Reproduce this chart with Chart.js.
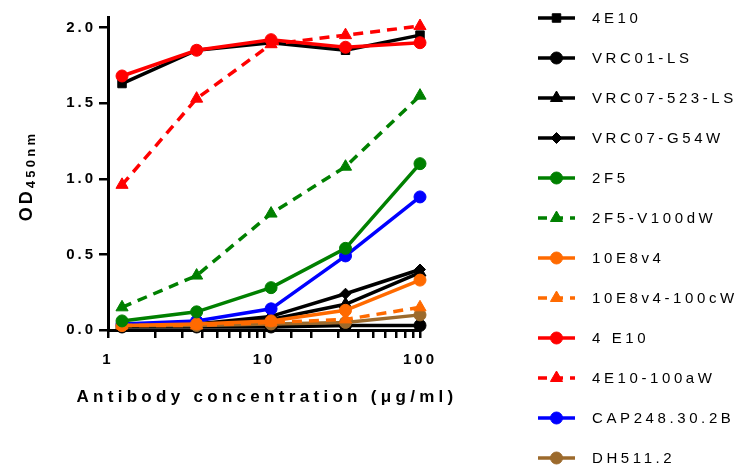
<!DOCTYPE html>
<html>
<head>
<meta charset="utf-8">
<script src="https://cdn.jsdelivr.net/npm/chart.js@4.4.1/dist/chart.umd.min.js"></script>
<style>
  html, body { margin: 0; padding: 0; background: #fff; }
</style>
</head>
<body>
<canvas id="elisaChart" width="739" height="468"></canvas>
<script>
// antibody concentrations (ug/ml), 3-fold dilutions
const conc = [1.23, 3.7, 11.1, 33.3, 100];

const names = ['4E10', 'VRC01-LS', 'VRC07-523-LS', 'VRC07-G54W', '2F5', '2F5-V100dW',
               '10E8v4', '10E8v4-100cW', '4 E10', '4E10-100aW', 'CAP248.30.2B', 'DH511.2'];

// OD450 per antibody
const od4E10      = [1.63, 1.85, 1.90, 1.85, 1.95];
const odVRC01LS   = [0.02, 0.02, 0.02, 0.03, 0.03];
const odVRC07523  = [0.03, 0.04, 0.07, 0.17, 0.38];
const odVRC07G54W = [0.03, 0.04, 0.09, 0.24, 0.40];
const od2F5       = [0.06, 0.12, 0.28, 0.54, 1.10];
const od2F5V100dW = [0.15, 0.36, 0.77, 1.08, 1.55];
const od10E8v4    = [0.03, 0.04, 0.06, 0.13, 0.33];
const od10E8v4cW  = [0.03, 0.03, 0.05, 0.07, 0.15];
const od4E10red   = [1.68, 1.85, 1.92, 1.87, 1.90];
const od4E10aW    = [0.96, 1.53, 1.89, 1.95, 2.01];
const odCAP248    = [0.04, 0.06, 0.14, 0.49, 0.88];
const odDH511     = [0.03, 0.03, 0.04, 0.05, 0.10];

const yTicks = [0, 0.5, 1.0, 1.5, 2.0];
const xLabels = [1, 10, 100];

const allSeries = [od4E10, odVRC01LS, odVRC07523, odVRC07G54W, od2F5, od2F5V100dW,
                   od10E8v4, od10E8v4cW, od4E10red, od4E10aW, odCAP248, odDH511];

const colors = ['#000000', '#000000', '#000000', '#000000', '#008000', '#008000',
                '#ff6a00', '#ff6a00', '#ff0000', '#ff0000', '#0000ff', '#9c6a2c'];
const markers = ['rect', 'circle', 'triangle', 'rectRot', 'circle', 'triangle',
                 'circle', 'triangle', 'circle', 'triangle', 'circle', 'circle'];
const dashed = [false, false, false, false, false, true, false, true, false, true, false, false];
// stacking: lower number is drawn on top
const zOrder = [9, 8, 7, 6, 1, 1, 2, 3, 1, 2, 4, 5];

const FONT = '"Liberation Sans", Arial, Helvetica, sans-serif';
Chart.defaults.font.family = FONT;

function markerSize(style) {
    if (style === 'triangle') return 7;
    if (style === 'rectRot') return 5.5;
    return 6;
}

const datasets = names.map((name, i) => ({
    label: name,
    data: conc.map((c, j) => ({ x: c, y: allSeries[i][j] })),
    borderColor: colors[i],
    backgroundColor: colors[i],
    pointBackgroundColor: colors[i],
    pointBorderColor: colors[i],
    pointStyle: markers[i],
    pointRadius: markerSize(markers[i]),
    pointBorderWidth: 1,
    borderWidth: 3.5,
    borderDash: dashed[i] ? [10, 7] : [],
    clip: false,
    order: zOrder[i]
}));

// titles + legend drawn by hand (letter spacing, subscript)
const extras = {
    id: 'extras',
    beforeDraw(chart) {
        chart.ctx.letterSpacing = '3px';
    },
    afterDraw(chart) {
        const ctx = chart.ctx;
        ctx.save();
        ctx.fillStyle = '#000';

        // x axis title
        ctx.font = 'bold 17px ' + FONT;
        ctx.letterSpacing = '4.3px';
        ctx.textAlign = 'center';
        ctx.textBaseline = 'alphabetic';
        ctx.fillText('Antibody concentration (\u03bcg/ml)', 267, 402);

        // y axis title OD450nm
        ctx.save();
        ctx.translate(32, 176);
        ctx.rotate(-Math.PI / 2);
        ctx.textAlign = 'left';
        ctx.font = 'bold 18px ' + FONT;
        ctx.letterSpacing = '3px';
        const w1 = ctx.measureText('OD').width;
        ctx.font = 'bold 13px ' + FONT;
        ctx.letterSpacing = '3.3px';
        const w2 = ctx.measureText('450nm').width;
        const x0 = -(w1 + w2) / 2;
        ctx.font = 'bold 18px ' + FONT;
        ctx.letterSpacing = '3px';
        ctx.fillText('OD', x0, 0);
        ctx.font = 'bold 13px ' + FONT;
        ctx.letterSpacing = '3.3px';
        ctx.fillText('450nm', x0 + w1, 3);
        ctx.restore();

        // legend
        ctx.font = '15px ' + FONT;
        ctx.letterSpacing = '3.6px';
        ctx.textAlign = 'left';
        ctx.textBaseline = 'middle';
        chart.data.datasets.forEach((ds, i) => {
            const y = 18 + 40 * i;
            ctx.save();
            ctx.strokeStyle = ds.borderColor;
            ctx.fillStyle = ds.borderColor;
            ctx.lineWidth = 3.5;
            ctx.setLineDash(ds.borderDash.length ? [9, 7] : []);
            ctx.beginPath();
            ctx.moveTo(538, y);
            ctx.lineTo(575, y);
            ctx.stroke();
            ctx.setLineDash([]);
            ctx.lineWidth = 1;
            Chart.helpers.drawPoint(ctx, {
                pointStyle: ds.pointStyle,
                radius: ds.pointRadius,
                borderWidth: 1,
                rotation: 0
            }, 556.5, y);
            ctx.restore();
            ctx.fillStyle = '#000';
            ctx.fillText(ds.label, 592, y + 1);
        });
        ctx.restore();
    }
};

new Chart(document.getElementById('elisaChart').getContext('2d'), {
    type: 'line',
    data: { datasets: datasets },
    options: {
        responsive: false,
        animation: false,
        layout: { padding: { left: 0, top: 17, right: 319, bottom: 0 } },
        plugins: {
            legend: { display: false },
            title: { display: false },
            tooltip: { enabled: false }
        },
        scales: {
            x: {
                type: 'logarithmic',
                min: 1,
                max: 100,
                afterFit: s => { s.height = 138; },
                border: { display: true, color: '#000', width: 3 },
                grid: {
                    drawOnChartArea: false,
                    drawTicks: true,
                    tickLength: 8,
                    lineWidth: 2.5,
                    color: '#000'
                },
                ticks: {
                    autoSkip: false,
                    maxRotation: 0,
                    padding: 13,
                    color: '#000',
                    font: { size: 15, weight: 'bold' },
                    callback: v => (xLabels.includes(v) ? String(v) : '')
                }
            },
            y: {
                type: 'linear',
                min: 0,
                max: 2.07,
                afterFit: s => { s.width = 108; },
                afterBuildTicks: s => { s.ticks = yTicks.map(v => ({ value: v })); },
                border: { display: true, color: '#000', width: 3 },
                grid: {
                    drawOnChartArea: false,
                    drawTicks: true,
                    tickLength: 9,
                    lineWidth: 2.5,
                    color: '#000'
                },
                ticks: {
                    padding: 3,
                    color: '#000',
                    font: { size: 15, weight: 'bold' },
                    callback: v => v.toFixed(1)
                }
            }
        }
    },
    plugins: [extras]
});
</script>
</body>
</html>
